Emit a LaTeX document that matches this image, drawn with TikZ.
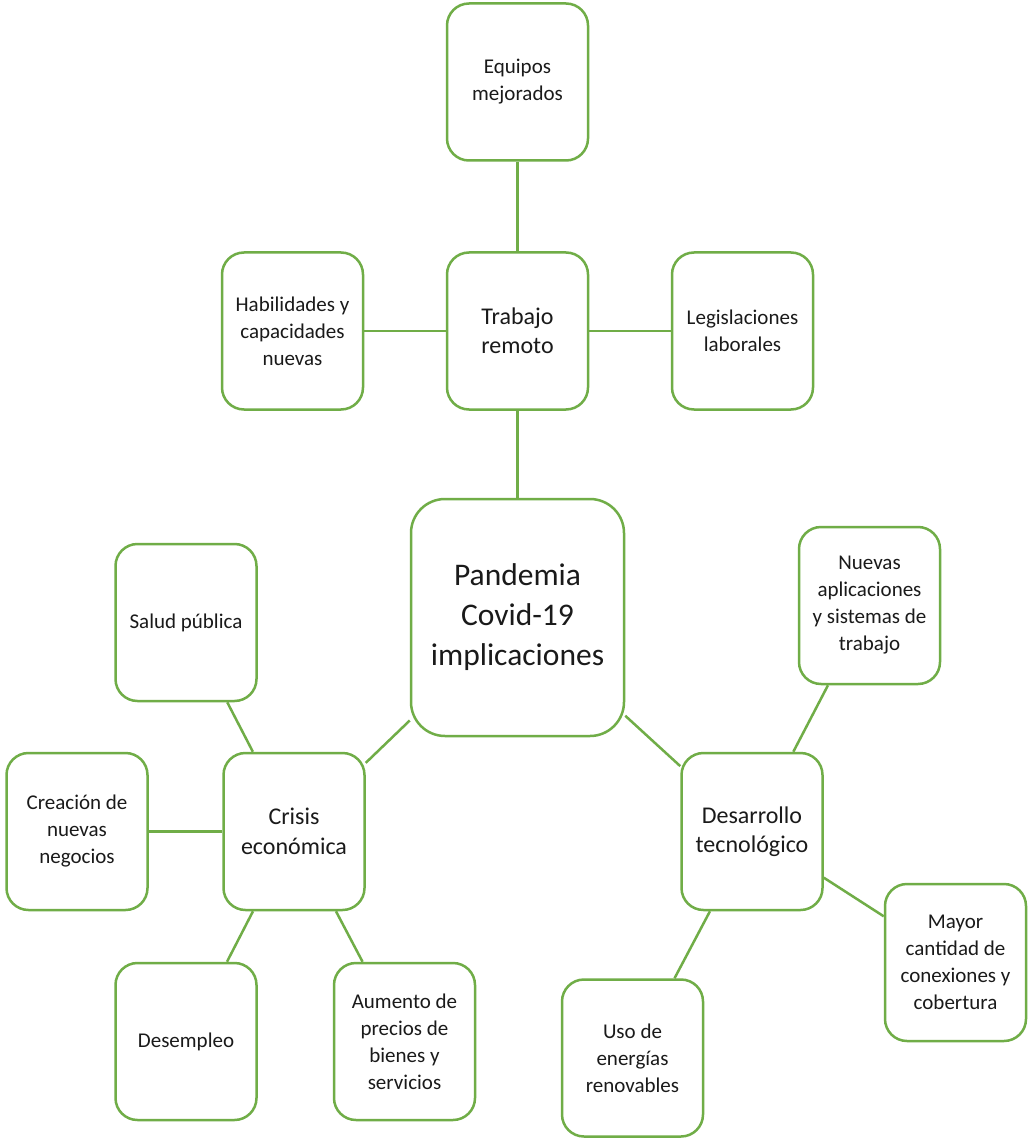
\documentclass[tikz,border=0pt]{standalone}
\usepackage{fontspec}
\setmainfont{Carlito}
\definecolor{boxgreen}{HTML}{70AD47}
\definecolor{txt}{HTML}{1A1A1A}
\begin{document}
\begin{tikzpicture}[x=1pt,y=-1pt,
  box/.style={draw=boxgreen, line width=2.5pt, fill=white, rectangle, rounded corners=22pt,
    minimum width=141pt, minimum height=157pt, align=center, text=txt, inner sep=2pt,
    font=\fontsize{21}{27}\selectfont},
  midbox/.style={box, font=\fontsize{24}{29.5}\selectfont},
  bigbox/.style={box, minimum width=213pt, minimum height=237pt, rounded corners=34pt,
    font=\fontsize{31.5}{40}\selectfont},
  link/.style={draw=boxgreen, line width=2.5pt}]
\useasboundingbox[fill=white] (0,0) rectangle (1029,1139);

\node[box] (eq) at (517.5,82) {Equipos\\mejorados};
\node[midbox] (tr) at (517.5,331) {Trabajo\\remoto};
\node[box] (ha) at (292.5,331) {Habilidades y\\capacidades\\nuevas};
\node[box] (le) at (742.5,331) {Legislaciones\\laborales};
\node[bigbox] (pa) at (517.5,617.5) {Pandemia\\Covid-19\\implicaciones};
\node[box] (sa) at (186,622.5) {Salud pública};
\node[midbox] (cr) at (294,831.5) {Crisis\\económica};
\node[box] (ca) at (77,831.5) {Creación de\\nuevas\\negocios};
\node[box] (de) at (186,1041.5) {Desempleo};
\node[box] (au) at (404.5,1041.5) {Aumento de\\precios de\\bienes y\\servicios};
\node[box] (nu) at (869.5,605.5) {Nuevas\\aplicaciones\\y sistemas de\\trabajo};
\node[midbox] (ds) at (752,831.5) {Desarrollo\\tecnológico};
\node[box] (ma) at (955.5,962.5) {Mayor\\cantidad de\\conexiones y\\cobertura};
\node[box] (us) at (632.5,1058) {Uso de\\energías\\renovables};

\draw[link] (eq) -- (tr);
\draw[link] (ha) -- (tr);
\draw[link] (tr) -- (le);
\draw[link] (tr) -- (pa);
\draw[link] (pa) -- (cr);
\draw[link] (pa) -- (ds);
\draw[link] (sa) -- (cr);
\draw[link] (ca) -- (cr);
\draw[link] (cr) -- (de);
\draw[link] (cr) -- (au);
\draw[link] (nu) -- (ds);
\draw[link] (ds) -- (ma);
\draw[link] (ds) -- (us);
\end{tikzpicture}
\end{document}
